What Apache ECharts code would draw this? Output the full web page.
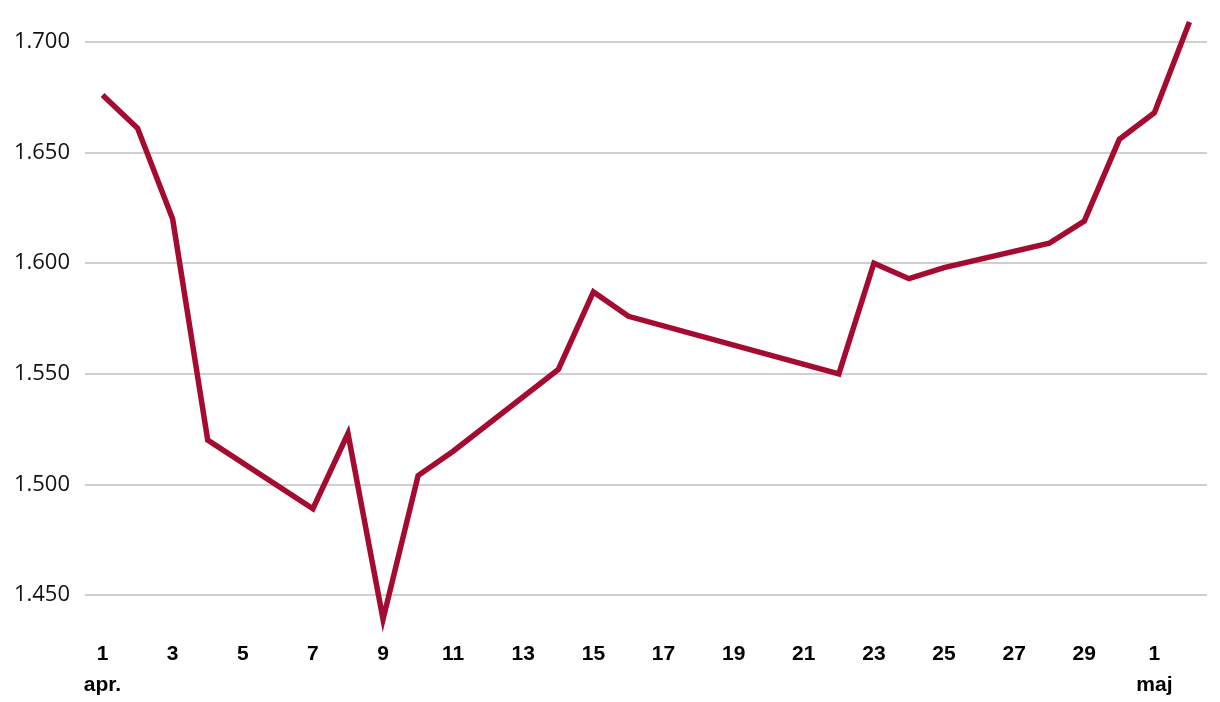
<!DOCTYPE html>
<html>
<head>
<meta charset="utf-8">
<script src="https://cdn.jsdelivr.net/npm/echarts@6/dist/echarts.min.js"></script>
<style>html,body{margin:0;padding:0;background:#fff;}#c{width:1220px;height:702px;}</style>
</head>
<body>
<div id="c"></div>
<script>
// Days from 1 April to 2 May
const categories = ['1 apr.','2','3','4','5','6','7','8','9','10','11','12','13','14','15','16','17','18','19','20','21','22','23','24','25','26','27','28','29','30','1 maj','2'];
// Values (null = no quote that day)
const values = [1.676,1.661,1.620,1.520,null,null,1.489,1.523,1.439,1.504,1.515,null,null,1.552,1.587,1.576,null,null,null,null,null,1.550,1.600,1.593,1.598,null,null,1.609,1.619,1.656,1.668,1.709];
const yTicks = [1.45,1.50,1.55,1.60,1.65,1.70];

const chart = echarts.init(document.getElementById('c'));
chart.setOption({
  animation: false,
  grid: {left: 85, right: 13, top: 42, bottom: 107, containLabel: false},
  xAxis: {
    type: 'category',
    data: categories,
    boundaryGap: true,
    axisLine: {show: false},
    axisTick: {show: false},
    axisLabel: {
      interval: 1,
      margin: 44,
      fontFamily: 'Liberation Sans, Arial, sans-serif',
      fontSize: 21,
      fontWeight: 'bold',
      color: '#000',
      lineHeight: 31,
      formatter: function (v) { return v.replace(' ', '\n'); }
    }
  },
  yAxis: {
    type: 'value',
    min: yTicks[0],
    max: yTicks[yTicks.length - 1],
    interval: 0.05,
    axisLine: {show: false},
    axisTick: {show: false},
    splitLine: {lineStyle: {color: '#bfbfbf', width: 1.5}},
    axisLabel: {
      margin: 15,
      fontFamily: 'Open Sans, sans-serif',
      fontSize: 22,
      color: '#111',
      lineHeight: 26,
      padding: [6, 0, 0, 0],
      formatter: function (v) { return v.toFixed(3).replace(/^(\d)\.(\d{3})$/, '$1.$2'); }
    }
  },
  series: [{
    type: 'line',
    data: values,
    connectNulls: true,
    clip: false,
    showSymbol: false,
    symbol: 'none',
    lineStyle: {color: '#a50b30', width: 5.5, join: 'miter'}
  }]
});
</script>
</body>
</html>
